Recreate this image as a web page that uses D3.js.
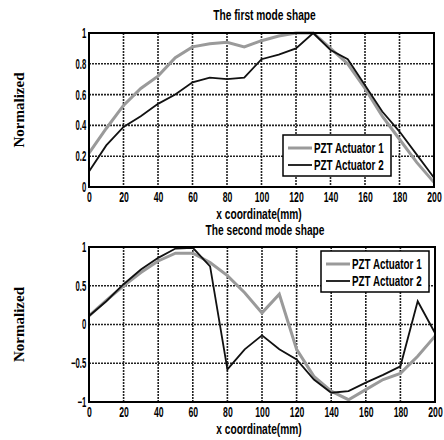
<!DOCTYPE html>
<html>
<head>
<meta charset="utf-8">
<script src="https://cdn.jsdelivr.net/npm/d3@7"></script>
<style>
body{margin:0;background:#fff;}
.tick text{font-family:"Liberation Sans",Arial,sans-serif;font-weight:bold;font-size:14px;fill:#000;}
</style>
</head>
<body>
<div class="visHolder"></div>
<script>
const width=444;
const height=440;

// x positions (mm)
const xs=[0,10,20,30,40,50,60,70,80,90,100,110,120,130,140,150,160,170,180,190,200];
const xTicks=[0,20,40,60,80,100,120,140,160,180,200];

// first mode shape
const mode1Act1=[0.22,0.38,0.53,0.64,0.72,0.84,0.91,0.93,0.94,0.91,0.95,0.98,1.0,1.0,0.9,0.8,0.64,0.46,0.31,0.16,0.03];
const mode1Act2=[0.1,0.27,0.39,0.46,0.54,0.6,0.68,0.71,0.7,0.71,0.83,0.86,0.9,1.0,0.89,0.83,0.66,0.49,0.36,0.21,0.06];
const mode1YTicks=[0,0.2,0.4,0.6,0.8,1];

// second mode shape
const mode2Act1=[0.11,0.31,0.5,0.67,0.82,0.92,0.92,0.8,0.63,0.41,0.15,0.39,-0.32,-0.67,-0.86,-0.97,-0.84,-0.71,-0.63,-0.41,-0.15];
const mode2Act2=[0.11,0.3,0.52,0.71,0.86,0.98,0.99,0.75,-0.58,-0.32,-0.14,-0.32,-0.45,-0.71,-0.88,-0.86,-0.75,-0.65,-0.54,0.3,-0.11];
const mode2YTicks=[-1,-0.5,0,0.5,1];

const seriesNames=["PZT Actuator 1","PZT Actuator 2"];

const svg=d3.select(".visHolder")
  .append("svg")
  .attr("width",width)
  .attr("height",height);

const sans="'Liberation Sans',Arial,sans-serif";

// condensed bold label, placed at (x,y)
function label(parent,x,y,txt,size,sx,anchor){
  return parent.append("text")
    .attr("transform","translate("+x+","+y+") scale("+sx+",1)")
    .attr("text-anchor",anchor||"middle")
    .style("font-family",sans)
    .style("font-weight","bold").style("font-size",size+"px")
    .text(txt);
}

function drawPanel(opt){
  const xScale=d3.scaleLinear().domain([0,200]).range([opt.left,opt.right]);
  const yScale=d3.scaleLinear().domain(opt.yDomain).range([opt.bottom,opt.top]);

  // grid
  svg.append("g").selectAll("line").data(xTicks).enter().append("line")
    .attr("x1",d=>xScale(d)).attr("x2",d=>xScale(d))
    .attr("y1",opt.top).attr("y2",opt.bottom)
    .attr("stroke","#222").attr("stroke-width",1.6).attr("stroke-dasharray","2,1");
  svg.append("g").selectAll("line").data(opt.yTicks).enter().append("line")
    .attr("x1",opt.left).attr("x2",opt.right)
    .attr("y1",d=>yScale(d)).attr("y2",d=>yScale(d))
    .attr("stroke","#222").attr("stroke-width",1.6).attr("stroke-dasharray","2,1");

  const line=d3.line().x((d,i)=>xScale(xs[i])).y(d=>yScale(d));

  svg.append("path").datum(opt.s1)
    .attr("d",line).attr("fill","none")
    .attr("stroke","#9a9a9a").attr("stroke-width",3);
  svg.append("path").datum(opt.s2)
    .attr("d",line).attr("fill","none")
    .attr("stroke","#111").attr("stroke-width",1.8);

  // box
  svg.append("rect")
    .attr("x",opt.left).attr("y",opt.top)
    .attr("width",opt.right-opt.left).attr("height",opt.bottom-opt.top)
    .attr("fill","none").attr("stroke","#000").attr("stroke-width",2);

  const xAxis=d3.axisBottom(xScale).tickValues(xTicks).tickSize(0).tickPadding(5);
  svg.append("g").attr("transform","translate(0,"+opt.bottom+")").call(xAxis)
    .call(g=>g.select(".domain").remove())
    .call(g=>g.selectAll("text").attr("transform","scale(0.62,1)"));
  const yAxis=d3.axisLeft(yScale).tickValues(opt.yTicks).tickSize(0).tickPadding(5)
    .tickFormat(d3.format("~g"));
  svg.append("g").attr("transform","translate("+opt.left+",0)").call(yAxis)
    .call(g=>g.select(".domain").remove())
    .call(g=>g.selectAll("text").attr("transform","scale(0.55,1)"));

  label(svg,(opt.left+opt.right)/2+3,opt.titleY,opt.title,15,0.68);
  label(svg,259,opt.bottom+32,"x coordinate(mm)",15,0.68);

  svg.append("text")
    .attr("transform","rotate(-90)")
    .attr("x",-(opt.top+opt.bottom)/2).attr("y",24)
    .attr("text-anchor","middle")
    .style("font-family","'Liberation Serif','Times New Roman',serif")
    .style("font-weight","bold").style("font-size","15px")
    .text("Normalized");

  // legend
  const lg=svg.append("g").attr("transform","translate("+opt.legend[0]+","+opt.legend[1]+")");
  lg.append("rect").attr("width",108).attr("height",41)
    .attr("fill","#fff").attr("stroke","#000").attr("stroke-width",1.5);
  seriesNames.forEach((n,i)=>{
    lg.append("line").attr("x1",5).attr("x2",29)
      .attr("y1",13+i*17).attr("y2",13+i*17)
      .attr("stroke",i==0?"#9a9a9a":"#111").attr("stroke-width",i==0?3:1.8);
    label(lg,31,18+i*17,n,14.5,0.68,"start");
  });
}

drawPanel({left:89,right:434,top:33,bottom:187,yDomain:[0,1],yTicks:mode1YTicks,
  s1:mode1Act1,s2:mode1Act2,title:"The first mode shape",titleY:20,legend:[283,135]});
drawPanel({left:89,right:435,top:247,bottom:402,yDomain:[-1,1],yTicks:mode2YTicks,
  s1:mode2Act1,s2:mode2Act2,title:"The second mode shape",titleY:235,legend:[321,251]});
</script>
</body>
</html>
